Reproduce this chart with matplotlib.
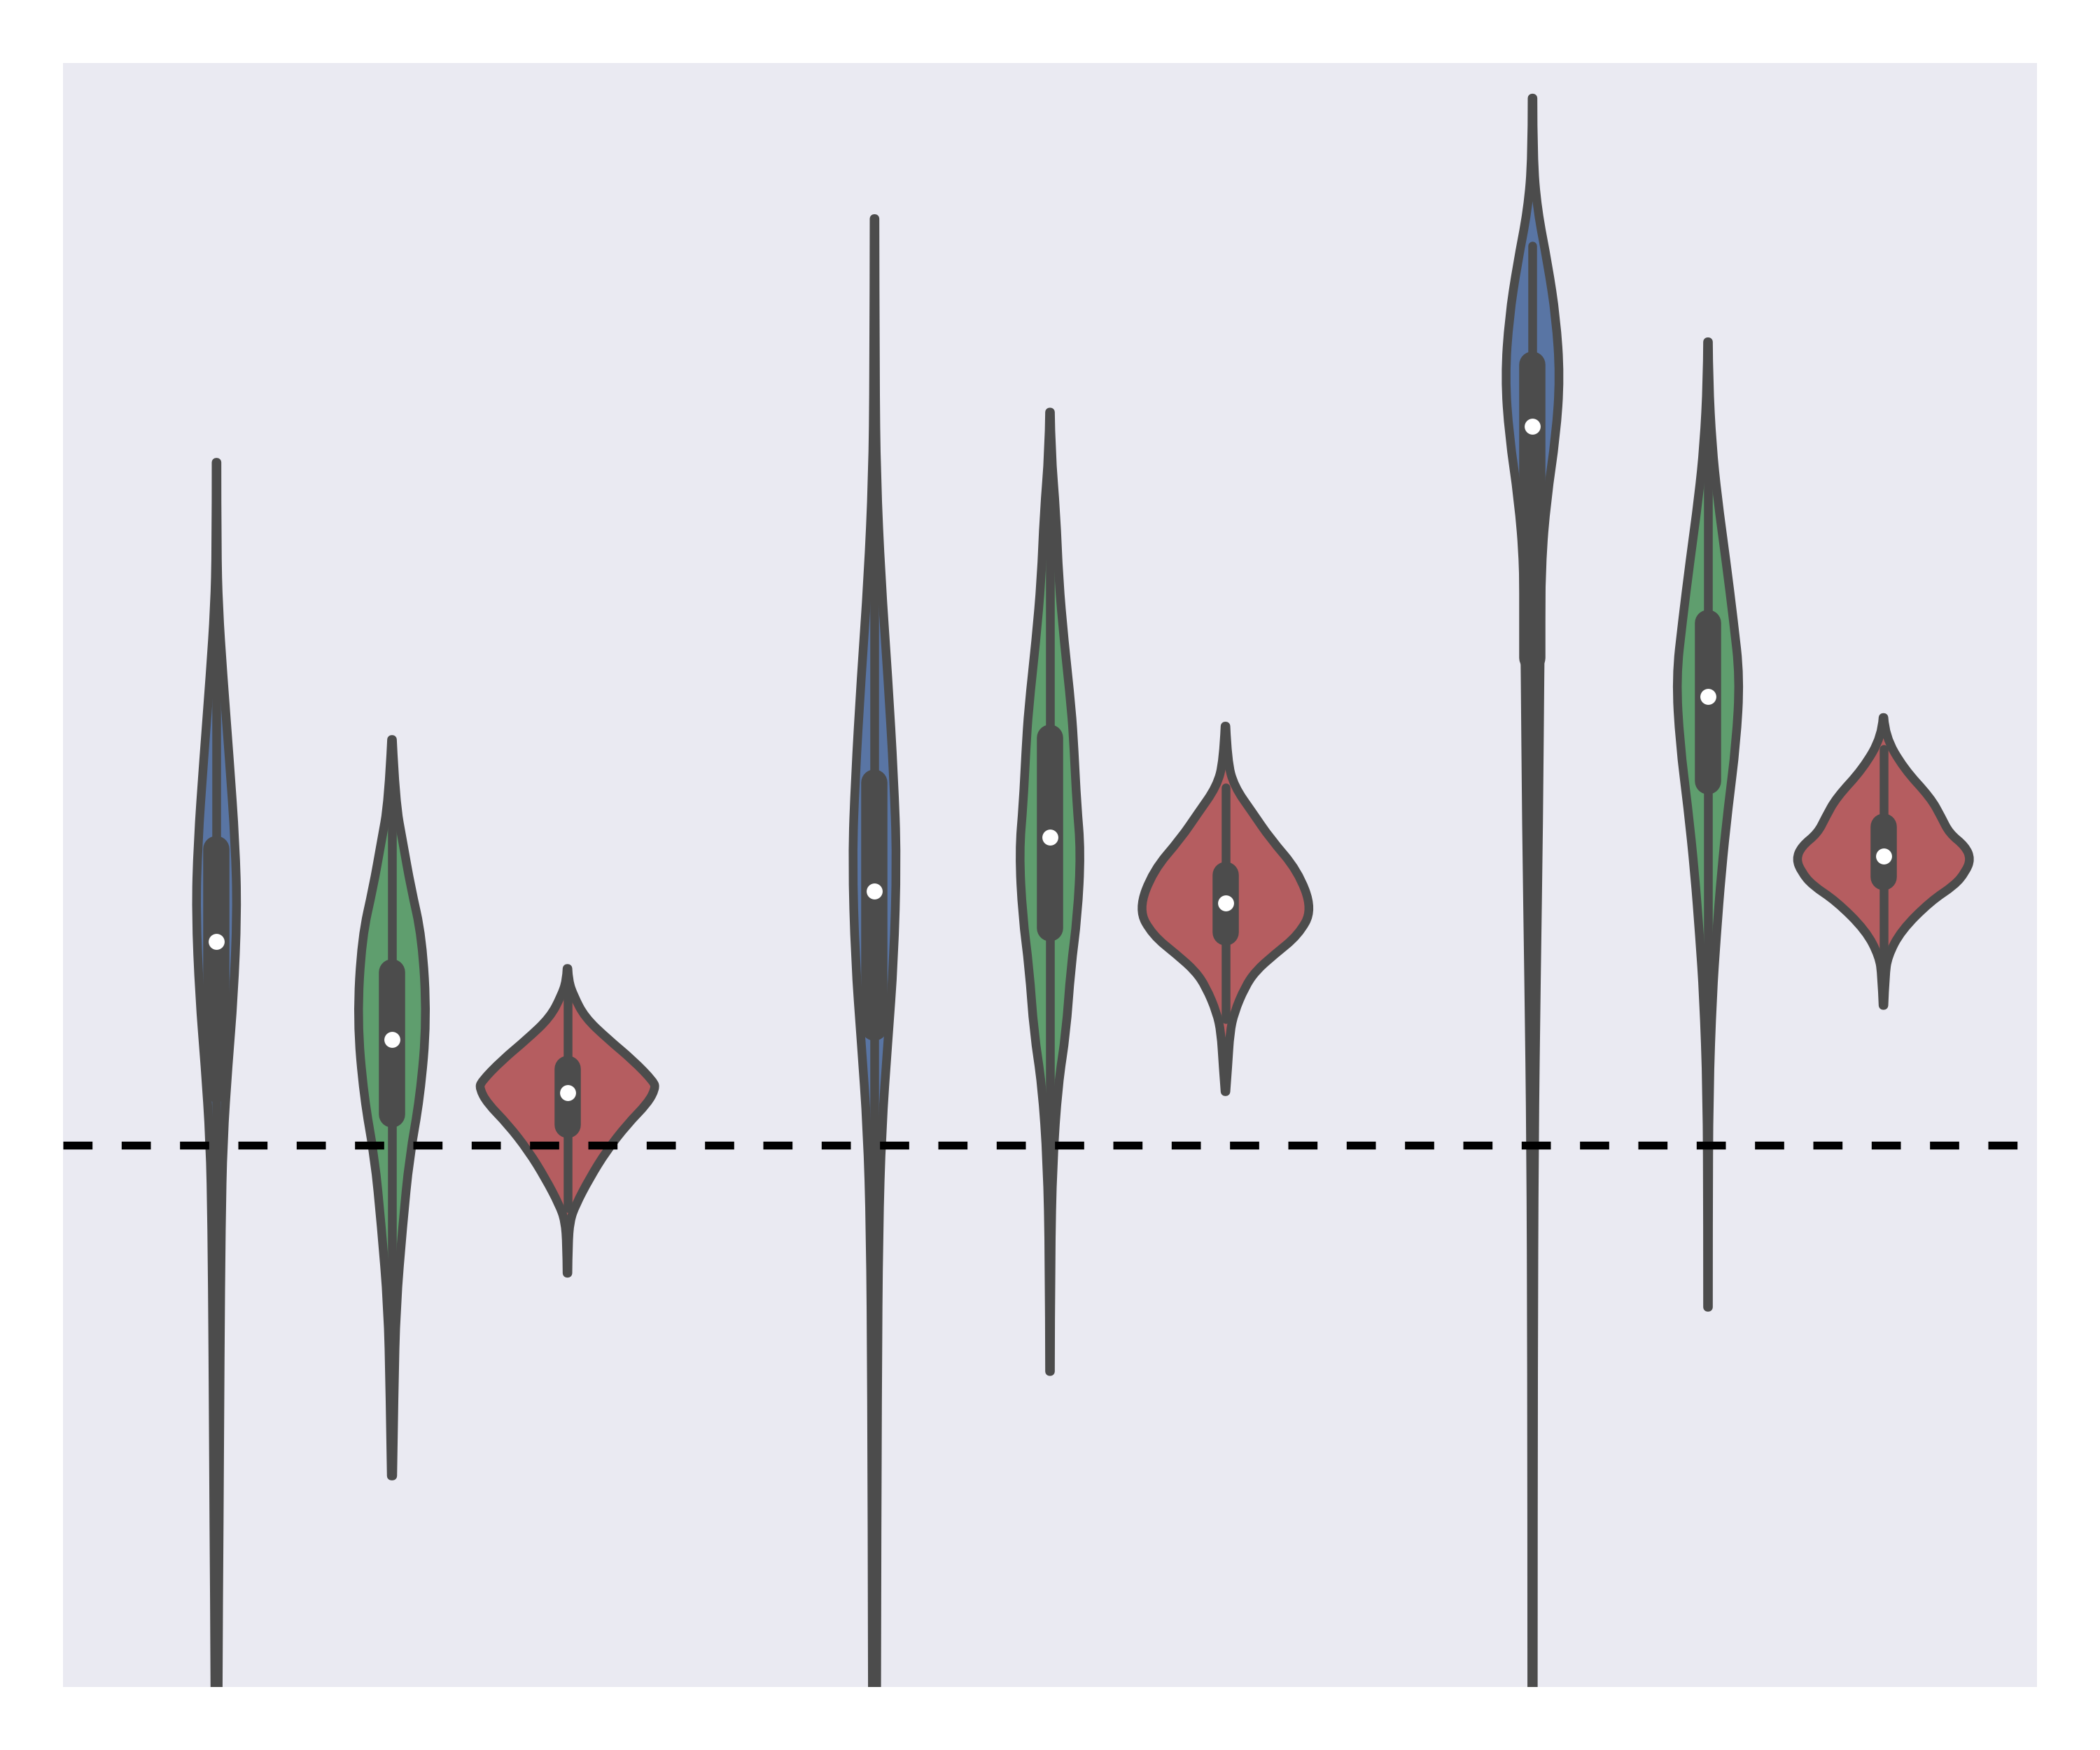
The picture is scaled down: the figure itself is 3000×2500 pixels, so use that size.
import numpy as np
import matplotlib
matplotlib.use("Agg")
import matplotlib.pyplot as plt
from matplotlib.path import Path
from matplotlib.patches import PathPatch

# three groups, three hues per group
groups = [0, 1, 2]
hues = ["blue", "green", "red"]
colors = ["#5975A4", "#5F9E6E", "#B55D60"]
gray = "#4C4C4C"

# violin outlines: y levels and half widths (density units)
blue_y = [
    [5.10, 4.46, 4.02, 3.52, 2.88, 2.25, 1.74, 1.11, 0.60, 0.03, -0.60, -1.55, -2.81, -4.02, -5.00],
    [6.92, 5.74, 4.99, 4.24, 3.49, 2.74, 2.14, 1.38, 0.78, 0.11, -0.64, -1.77, -4.02, -6.45],
    [7.82, 7.38, 6.99, 6.58, 6.18, 5.74, 5.30, 4.82, 4.34, 3.54, 2.41, 1.21, 0.01, -1.59, -4.02, -6.45],
]
blue_w = [
    [0.3, 0.3, 1.4, 4.7, 9.6, 14.0, 15.4, 12.7, 8.6, 4.8, 3.5, 2.7, 2.0, 1.1, 1.0],
    [0.3, 0.5, 1.4, 4.8, 10.0, 14.4, 16.6, 14.4, 10.0, 5.3, 3.1, 2.2, 1.5, 1.2],
    [0.3, 0.3, 3.5, 11.4, 17.5, 20.5, 17.5, 10.5, 6.5, 5.5, 4.6, 2.8, 1.3, 0.7, 0.5, 0.5],
]
green_y = [
    [3.03, 2.57, 2.25, 1.93, 1.55, 0.94, 0.36, -0.09, -0.60, -1.21, -1.83, -2.47],
    [5.475, 5.19, 4.71, 4.23, 3.77, 3.26, 2.95, 2.55, 2.19, 1.71, 1.32, 0.84, 0.45, -0.13, -0.85, -1.69],
    [6.00, 5.71, 5.23, 4.84, 4.36, 3.92, 3.49, 3.00, 2.52, 2.04, 1.55, 1.12, 0.40, -0.57, -1.21],
]
green_w = [
    [0.3, 2.5, 8.3, 14.0, 22.5, 26.0, 21.0, 13.0, 8.0, 3.0, 1.5, 0.5],
    [0.3, 0.7, 4.5, 6.5, 10.5, 16.0, 18.0, 20.0, 23.0, 20.5, 15.5, 12.0, 6.0, 2.0, 0.5, 0.3],
    [0.3, 0.5, 3.0, 7.0, 13.5, 19.0, 23.8, 21.0, 15.0, 10.0, 6.2, 3.3, 0.7, 0.3, 0.3],
]
red_y = [
    [1.32, 1.23, 1.115, 0.955, 0.794, 0.634, 0.474, 0.424, 0.315, 0.155, -0.045, -0.246, -0.446, -0.566, -0.746, -0.956],
    [3.13, 2.87, 2.68, 2.48, 2.29, 2.05, 1.76, 1.57, 1.42, 1.30, 1.18, 0.99, 0.84, 0.60, 0.40],
    [3.194, 3.055, 2.813, 2.595, 2.45, 2.33, 2.232, 2.136, 2.04, 1.942, 1.822, 1.603, 1.41, 1.265, 1.044],
]
red_w = [
    [0.3, 0.7, 4.7, 13.0, 30.0, 49.0, 64.5, 65.7, 60.0, 44.5, 29.0, 16.6, 6.1, 1.8, 0.5, 0.3],
    [0.3, 1.5, 6.5, 20.5, 33.5, 54.0, 65.0, 54.5, 36.0, 22.5, 14.5, 6.5, 3.3, 1.8, 0.3],
    [0.3, 1.2, 15.2, 35.2, 43.2, 49.2, 61.2, 65.2, 61.2, 53.2, 35.2, 13.2, 3.2, 1.2, 0.3],
]

# inner box stats per hue (one value per group)
q1 = {"blue": [0.42, 0.88, 3.64], "green": [0.23, 1.62, 2.72], "red": [0.15, 1.59, 2.00]}
q3 = {"blue": [2.21, 2.71, 5.83], "green": [1.29, 3.04, 3.90], "red": [0.57, 2.02, 2.38]}
med = {"blue": [1.52, 1.90, 5.37], "green": [0.79, 2.30, 3.35], "red": [0.39, 1.81, 2.16]}
whis_lo = {"blue": [-2.27, -1.87, 0.35], "green": [-1.36, -0.50, 0.95], "red": [-0.47, 0.94, 1.42]}
whis_hi = {"blue": [4.90, 5.46, 6.72], "green": [2.88, 5.16, 5.67], "red": [1.19, 2.67, 2.96]}

ref_level = 0.0

prof_y = {"blue": blue_y, "green": green_y, "red": red_y}
prof_w = {"blue": blue_w, "green": green_w, "red": red_w}


def side(xs, ys):
    # quadratic bezier through the read points (used as control points)
    verts = [(xs[0], ys[0])]
    codes = [Path.LINETO]
    n = len(xs)
    for i in range(1, n - 1):
        verts.append((xs[i], ys[i]))
        if i < n - 2:
            verts.append(((xs[i] + xs[i + 1]) / 2, (ys[i] + ys[i + 1]) / 2))
        else:
            verts.append((xs[-1], ys[-1]))
        codes += [Path.CURVE3, Path.CURVE3]
    return verts, codes


def violin_path(x, y, w):
    rv, rc = side(x + w, y)
    lv, lc = side((x - w)[::-1], y[::-1])
    verts = rv + lv + [rv[0]]
    codes = [Path.MOVETO] + rc[1:] + lc + [Path.CLOSEPOLY]
    return Path(verts, codes)


fig = plt.figure(figsize=(10, 25 / 3), dpi=300)
ax = fig.add_axes([0.03, 0.036, 0.94, 0.928])
ax.set_facecolor("#EAEAF2")
for sp in ax.spines.values():
    sp.set_visible(False)
ax.set_xticks([])
ax.set_yticks([])

width_scale = 1 / 491.4  # density units -> x units
hue_width = 0.8 / len(hues)
lw = 3

for h, hue in enumerate(hues):
    off = (h - 1) * hue_width
    for g in groups:
        x = g + off
        y = np.array(prof_y[hue][g])
        w = np.array(prof_w[hue][g]) * width_scale
        patch = PathPatch(violin_path(x, y, w), facecolor=colors[h], edgecolor=gray,
                          linewidth=lw, joinstyle="round", zorder=1)
        ax.add_patch(patch)
        ax.plot([x, x], [whis_lo[hue][g], whis_hi[hue][g]], color=gray, lw=lw,
                solid_capstyle="round", zorder=2)
        ax.plot([x, x], [q1[hue][g], q3[hue][g]], color=gray, lw=lw * 3,
                solid_capstyle="round", zorder=2)
        ax.scatter([x], [med[hue][g]], s=30, color="white", linewidths=0, zorder=3)

ax.axhline(ref_level, color="black", lw=2.7, linestyle=(0, (10 / 2.7, 10 / 2.7)), zorder=4)

ax.set_xlim(-0.5, 2.5)
ax.set_ylim(-4.046, 8.082)

fig.savefig("out.png", dpi=300, facecolor="white")
